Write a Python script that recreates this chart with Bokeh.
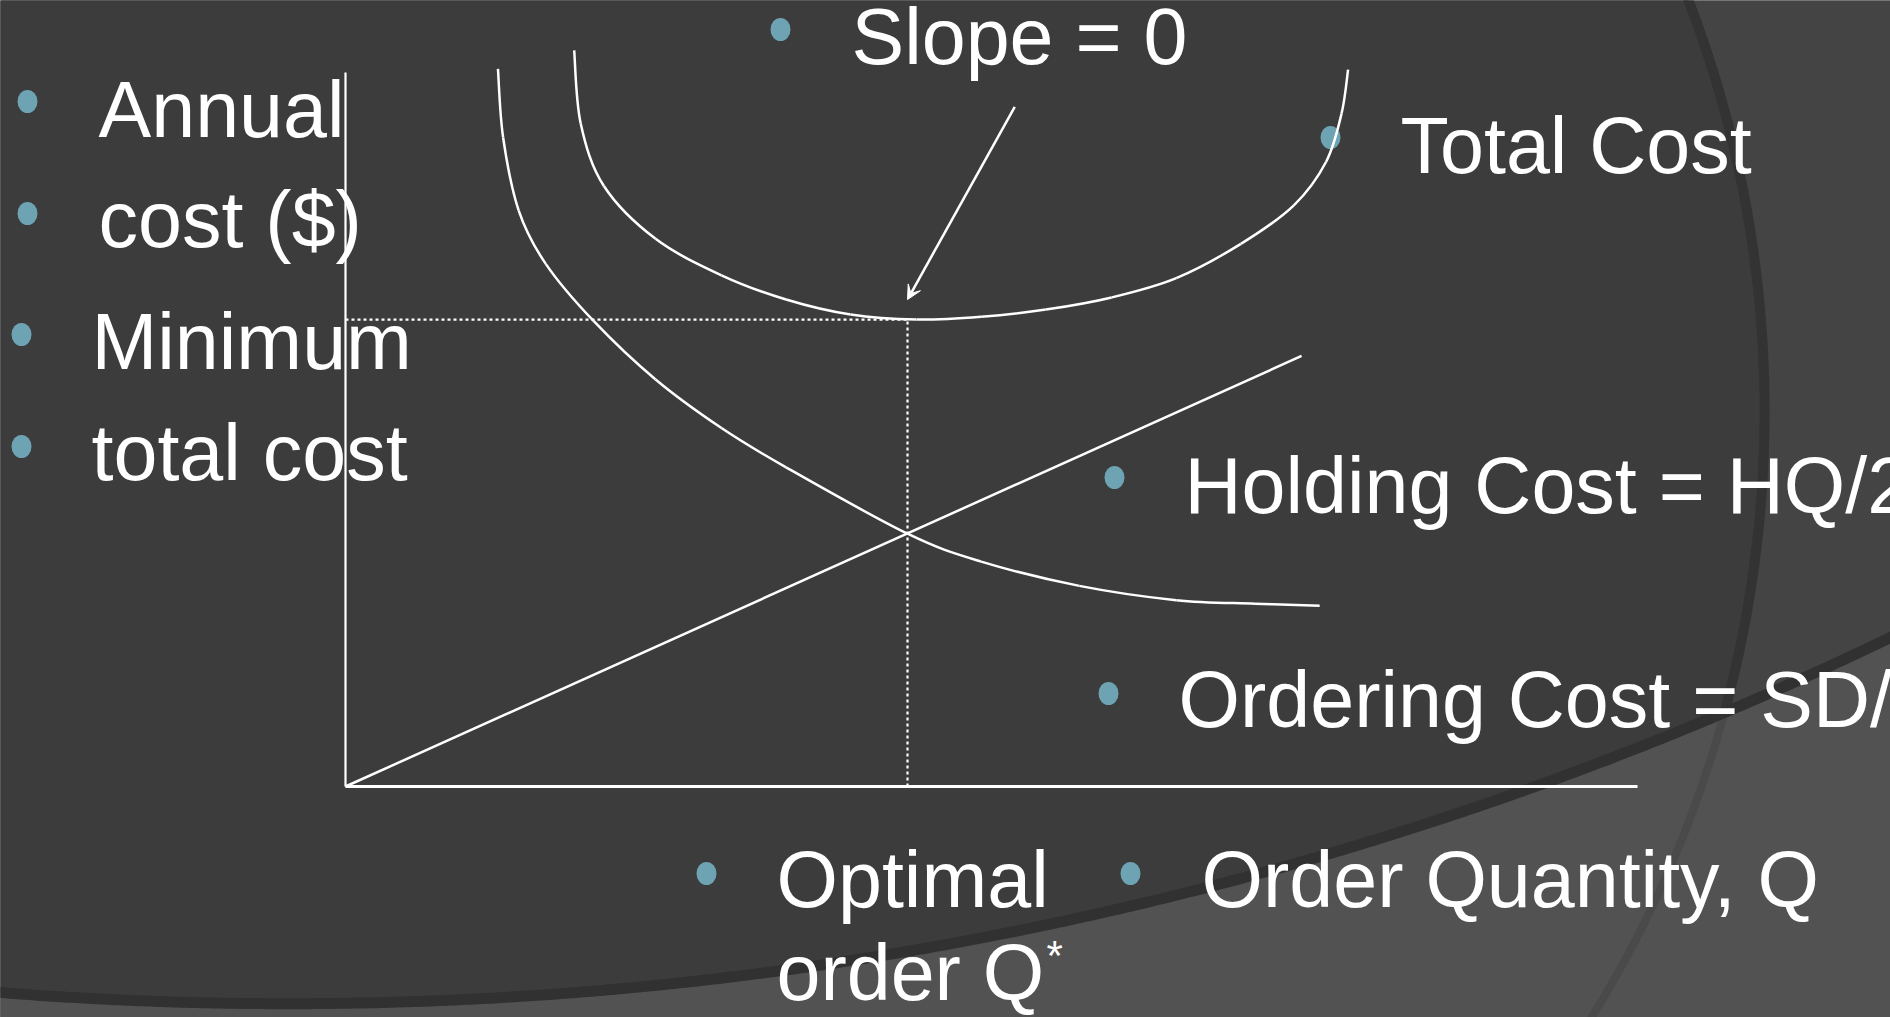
import numpy as np
from bokeh.plotting import figure
from bokeh.models import ColumnDataSource, Range1d, Arrow, VeeHead
from bokeh.core.properties import value
from bokeh.embed import file_html
from bokeh.resources import INLINE

# ---------------------------------------------------------------
# EOQ cost curves: order quantity Q (x) against annual cost (y),
# both axes running from 0 to 100.
# ---------------------------------------------------------------
q_axis_max = 100
cost_axis_max = 100

holding_q = [0.0, 74.0]
holding_cost = [0.0, 60.3]

ordering_q = [11.8, 12.2, 13.4, 15.5, 19.2, 24.0, 29.1, 34.1, 43.5,
              49.2, 56.8, 64.3, 70.4, 75.4]
ordering_cost = [100.5, 90.9, 80.7, 73.2, 65.2, 57.0, 50.2, 44.7, 35.4,
                 31.5, 28.1, 26.1, 25.6, 25.3]

total_q = [17.7, 18.2, 20.0, 24.0, 29.1, 34.1, 39.1, 44.2, 49.2,
           54.2, 59.3, 64.3, 69.3, 73.4, 75.9, 77.1, 77.6]
total_cost = [103.1, 92.9, 84.1, 76.7, 71.6, 68.2, 66.1, 65.4, 65.8,
              66.8, 68.5, 71.2, 76.0, 81.4, 87.5, 94.3, 100.4]

q_star = 43.5            # optimal order quantity
min_total_cost = 65.4    # total cost at q_star
slope_arrow_tail = (51.8, 95.2)

# ---------------------------------------------------------------
# Slide texts
# ---------------------------------------------------------------
label_text = ["Annual", "cost ($)", "Minimum", "total cost", "Slope = 0",
              "Total Cost", "Holding Cost = HQ/2", "Ordering Cost = SD/Q",
              "Optimal", "order Q", "Order Quantity, Q"]

# layout (slide pixels, y downwards; y is the text baseline)
TEXT_SHIFT = -30
label_x = [98, 98, 91, 91, 851, 1400, 1184, 1178, 776, 776, 1201]
label_y = [139, 249, 371, 482, 66, 175, 515, 729, 909, 1002, 909]
label_y = [v + TEXT_SHIFT for v in label_y]
bullet_x = [27, 27, 21, 21, 780, 1330, 1114, 1108, 706, 1130]
bullet_y = [101, 213, 334, 446, 29, 137, 477, 693, 873, 873]
star_pos = (1046, 985 + TEXT_SHIFT)

W, H = 1890, 1017
ORIGIN_PX = (345, 786)      # where Q=0, cost=0 sits on the slide
AXIS_END_PX = (1637, 72)    # where Q=q_axis_max, cost=cost_axis_max sit
sx = (AXIS_END_PX[0] - ORIGIN_PX[0]) / q_axis_max
sy = (ORIGIN_PX[1] - AXIS_END_PX[1]) / cost_axis_max

DARK = "#3c3c3c"
MID = "#444444"
LIGHT = "#525252"
BAND = "#313131"
WHITE = "#ffffff"
BULLET = "#6ea3b4"
FONT = "Liberation Sans"

p = figure(width=W, height=H, output_backend="svg", toolbar_location=None,
           x_range=Range1d(-ORIGIN_PX[0] / sx, (W - ORIGIN_PX[0]) / sx),
           y_range=Range1d(-(H - ORIGIN_PX[1]) / sy, ORIGIN_PX[1] / sy),
           x_axis_location=None, y_axis_location=None, min_border=0,
           background_fill_color=LIGHT, border_fill_color=LIGHT,
           outline_line_color=None)
p.extra_x_ranges = {"slide": Range1d(0, W)}
p.extra_y_ranges = {"slide": Range1d(H, 0)}
p.grid.visible = False
S = dict(x_range_name="slide", y_range_name="slide")

# ---- theme background: two large overlapping circles ----
arc_a = (616.5, 410.9, 1147.6)      # tall arc on the right
arc_b = (287.5, -2685.7, 3688.9)    # shallow sweep across the bottom

p.circle(x=[arc_b[0]], y=[arc_b[1]], radius=arc_b[2], fill_color=MID,
         line_color=None, **S)
p.circle(x=[arc_a[0]], y=[arc_a[1]], radius=arc_a[2], fill_color=DARK,
         line_color=None, **S)

bx = np.linspace(-30, W + 30, 500)
by = arc_b[1] + np.sqrt(arc_b[2] ** 2 - (bx - arc_b[0]) ** 2)
p.patch(x=list(bx) + [W + 30, -30], y=list(by) + [H + 40, H + 40],
        fill_color=LIGHT, line_color=None, **S)

t = np.linspace(-np.pi / 2, np.pi / 2, 900)
ax = arc_a[0] + arc_a[2] * np.cos(t)
ay = arc_a[1] + arc_a[2] * np.sin(t)
ab = arc_b[1] + np.sqrt(arc_b[2] ** 2 - (ax - arc_b[0]) ** 2)
below = ay > ab
p.line(x=ax[~below], y=ay[~below], line_color="#333333", line_width=10, **S)
p.line(x=ax[below], y=ay[below], line_color="#4a4a4a", line_width=8, **S)
p.line(x=bx, y=by, line_color=BAND, line_width=11, **S)

# ---- bullets and texts ----
p.ellipse(x=bullet_x, y=bullet_y, width=20, height=23, fill_color=BULLET,
          line_color=None, **S)
labels = ColumnDataSource(dict(x=label_x, y=label_y, text=label_text))
p.text(x="x", y="y", text="text", source=labels, text_color=WHITE,
       text_font=value(FONT), text_font_size="79px",
       text_baseline="alphabetic", text_align="left", **S)
p.text(x=[star_pos[0]], y=[star_pos[1]], text=["*"], text_color=WHITE,
       text_font=value(FONT), text_font_size="42px",
       text_baseline="alphabetic", text_align="left", **S)

# ---- axes ----
p.line(x=[0, 0], y=[0, cost_axis_max], line_color=WHITE, line_width=2.2)
p.line(x=[0, q_axis_max], y=[0, 0], line_color=WHITE, line_width=3)

# ---- guide lines to the minimum ----
p.line(x=[0, q_star], y=[min_total_cost, min_total_cost], line_color=WHITE,
       line_width=2.2, line_dash="3 3")
p.line(x=[q_star, q_star], y=[0, min_total_cost], line_color=WHITE,
       line_width=2.2, line_dash="3 3")


def smooth_curve(xs, ys, **kw):
    """Draw a smooth curve through the given points as cubic Bezier pieces
    (Catmull-Rom tangents), one piece between each pair of points."""
    xs = np.asarray(xs, float)
    ys = np.asarray(ys, float)
    px = np.r_[xs[0], xs, xs[-1]]
    py = np.r_[ys[0], ys, ys[-1]]
    n = len(xs) - 1
    i = np.arange(n) + 1
    p.bezier(x0=px[i], y0=py[i], x1=px[i + 1], y1=py[i + 1],
             cx0=px[i] + (px[i + 1] - px[i - 1]) / 6,
             cy0=py[i] + (py[i + 1] - py[i - 1]) / 6,
             cx1=px[i + 1] - (px[i + 2] - px[i]) / 6,
             cy1=py[i + 1] - (py[i + 2] - py[i]) / 6, **kw)


# ---- cost curves ----
p.line(x=holding_q, y=holding_cost, line_color=WHITE, line_width=2.5)
smooth_curve(ordering_q, ordering_cost, line_color=WHITE, line_width=2.5)
smooth_curve(total_q, total_cost, line_color=WHITE, line_width=2.5)

# ---- "slope = 0" pointer ----
p.add_layout(Arrow(x_start=slope_arrow_tail[0], y_start=slope_arrow_tail[1],
                   x_end=q_star, y_end=min_total_cost + 2.8,
                   line_color=WHITE, line_width=2.5,
                   end=VeeHead(size=14, fill_color=WHITE, line_color=WHITE,
                               line_width=1)))

open("out.html", "w").write(file_html(p, INLINE))
